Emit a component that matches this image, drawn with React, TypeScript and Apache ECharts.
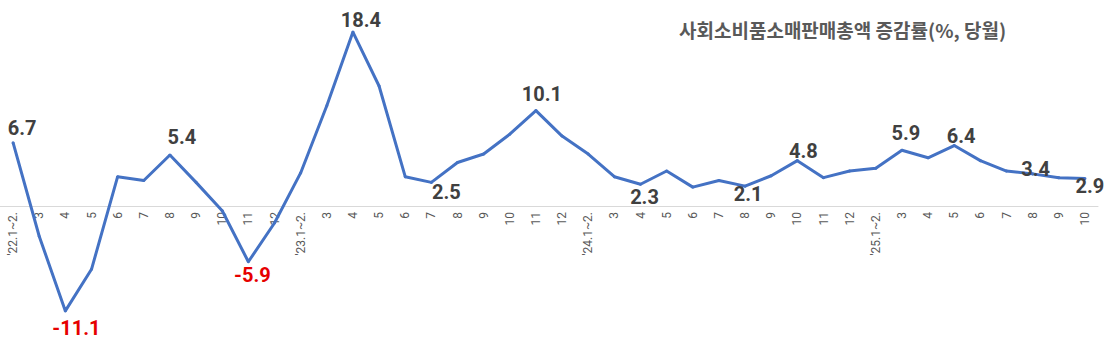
import React, { useEffect, useRef } from "react";
import * as echarts from "echarts";

const categories = [
  "'22.1~2.", "3", "4", "5", "6", "7", "8", "9", "10", "11", "12",
  "'23.1~2.", "3", "4", "5", "6", "7", "8", "9", "10", "11", "12",
  "'24.1~2.", "3", "4", "5", "6", "7", "8", "9", "10", "11", "12",
  "'25.1~2.", "3", "4", "5", "6", "7", "8", "9", "10",
];

const values = [
  6.7, -3.2, -11.1, -6.7, 3.1, 2.7, 5.4, 2.5, -0.5, -5.9, -1.8,
  3.5, 10.6, 18.4, 12.7, 3.1, 2.5, 4.6, 5.5, 7.6, 10.1, 7.4,
  5.5, 3.1, 2.3, 3.7, 2.0, 2.7, 2.1, 3.2, 4.8, 3.0, 3.7,
  4.0, 5.9, 5.1, 6.4, 4.8, 3.7, 3.4, 3.0, 2.9,
];

// labelled point index -> label centre offset from the point [dx, dy]
const labelled: Record<number, [number, number]> = {
  0: [9, -15],
  2: [11, 17],
  6: [12, -17.5],
  9: [4, 13],
  13: [8, -12],
  16: [15, 9.5],
  20: [6, -16.5],
  24: [4, 13],
  28: [3, 8],
  30: [6, -10],
  34: [4, -17],
  36: [7, -10],
  39: [3, -5],
  41: [5, 7],
};

const titleText = "사회소비품소매판매총액 증감률(%, 당월)";

export default function App() {
  const ref = useRef<HTMLDivElement>(null);
  useEffect(() => {
    if (!ref.current) return;
    const chart = echarts.init(ref.current, null, { renderer: "svg" });
    const data = values.map((v, i) => {
      const l = labelled[i];
      if (!l) return { value: v };
      return {
        value: v,
        label: {
          show: true,
          position: "top",
          color: v < 0 ? "#e60000" : "#404040",
        },
      };
    });
    chart.setOption({
      animation: false,
      backgroundColor: "#ffffff",
      title: {
        text: titleText,
        left: 674,
        top: 15,
        textStyle: {
          fontFamily: "'Noto Sans CJK KR', sans-serif",
          fontSize: 19,
          fontWeight: "bold",
          color: "#595959",
        },
      },
      grid: { left: 0, right: 10, top: 17, height: 321.3, outerBoundsMode: "none", containLabel: false },
      xAxis: {
        type: "category",
        data: categories,
        boundaryGap: true,
        offset: -132.3,
        axisLine: { show: true, onZero: false, lineStyle: { color: "#d9d9d9", width: 1 } },
        axisTick: { show: false },
        axisLabel: {
          rotate: 90,
          margin: 6,
          interval: 0,
          fontSize: 12,
          color: "#595959",
          fontFamily: "Roboto, sans-serif",
        },
      },
      yAxis: {
        type: "value",
        min: -14,
        max: 20,
        show: false,
        splitLine: { show: false },
      },
      series: [
        {
          type: "line",
          data,
          symbol: "circle",
          symbolSize: 3,
          showSymbol: true,
          lineStyle: { color: "#4472C4", width: 3 },
          itemStyle: { color: "#4472C4" },
          label: {
            show: false,
            fontFamily: "Roboto, sans-serif",
            fontSize: 20,
            fontWeight: "bold",
            formatter: (p: any) => String(p.value),
          },
          labelLayout: (params: any) => {
            const off = labelled[params.dataIndex];
            if (!off) return {};
            const r = params.rect;
            const cx = r.x + r.width / 2;
            const cy = r.y + r.height / 2;
            return {
              x: cx + off[0],
              y: cy + off[1],
              align: "center",
              verticalAlign: "middle",
              hideOverlap: false,
            };
          },
          z: 2,
        },
      ],
    });
    return () => chart.dispose();
  }, []);
  return (
    <div
      ref={ref}
      style={{ position: "absolute", left: 0, top: 0, width: 1108, height: 344 }}
    />
  );
}
